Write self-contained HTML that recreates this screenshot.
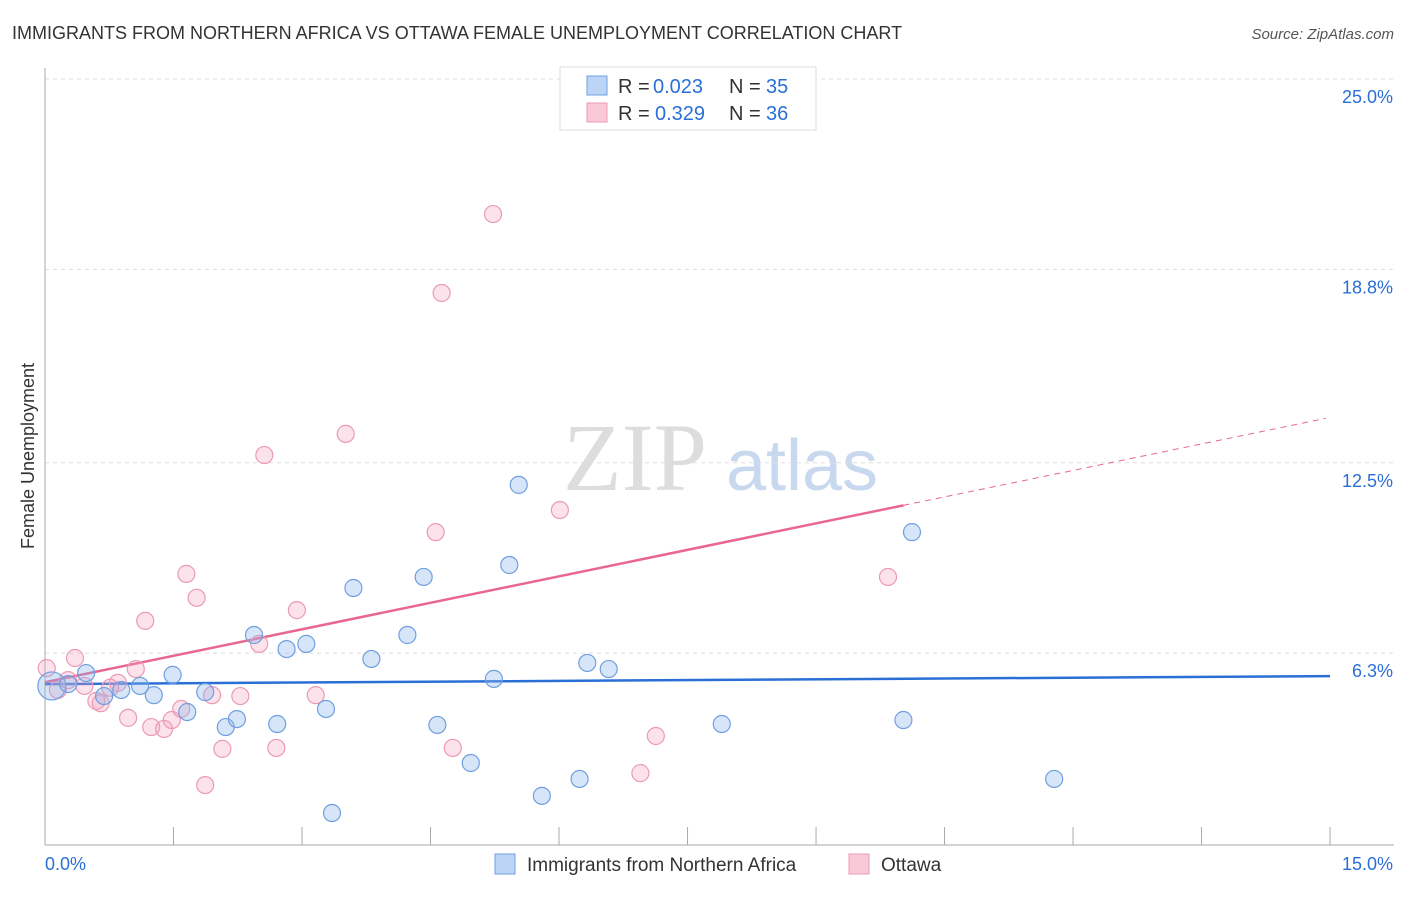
<!DOCTYPE html>
<html><head><meta charset="utf-8"><style>
body{margin:0;background:#fff;font-family:"Liberation Sans",sans-serif;}
</style></head><body>
<svg id="c" width="1406" height="892" xmlns="http://www.w3.org/2000/svg">
<text x="12" y="39" font-size="18" fill="#333">IMMIGRANTS FROM NORTHERN AFRICA VS OTTAWA FEMALE UNEMPLOYMENT CORRELATION CHART</text>
<text x="1394" y="39" font-size="15" fill="#555" font-style="italic" text-anchor="end">Source: ZipAtlas.com</text>
<text x="34" y="456" font-size="18" fill="#333" text-anchor="middle" transform="rotate(-90 34 456)">Female Unemployment</text>
<g><text x="635" y="490" font-family="Liberation Serif,serif" font-size="96" fill="#ddd" text-anchor="middle">ZIP</text><text x="802" y="490" font-size="72" fill="#c8d8ee" text-anchor="middle">atlas</text></g>
<g id="grid"></g><g id="axes"></g><g id="lines"></g><g id="pts"></g>
<g>
<rect x="560" y="67" width="256" height="63" fill="#fff" stroke="#ddd"/>
<rect x="587" y="76" width="20" height="19" fill="#bcd4f5" stroke="#6f9fe0"/>
<rect x="587" y="103" width="20" height="19" fill="#f9c9d8" stroke="#ec9ab4"/>
<text x="618" y="93" font-size="20" fill="#333">R =</text><text x="653" y="93" font-size="20" fill="#2a6fd6">0.023</text>
<text x="729" y="93" font-size="20" fill="#333">N =</text><text x="766" y="93" font-size="20" fill="#2a6fd6">35</text>
<text x="618" y="120" font-size="20" fill="#333">R =</text><text x="655" y="120" font-size="20" fill="#2a6fd6">0.329</text>
<text x="729" y="120" font-size="20" fill="#333">N =</text><text x="766" y="120" font-size="20" fill="#2a6fd6">36</text>
</g>
<g>
<rect x="495" y="854" width="20" height="20" fill="#bcd4f5" stroke="#6f9fe0"/>
<text x="527" y="871" font-size="19" fill="#333">Immigrants from Northern Africa</text>
<rect x="849" y="854" width="20" height="20" fill="#f9c9d8" stroke="#ec9ab4"/>
<text x="881" y="871" font-size="19" fill="#333">Ottawa</text>
</g>
</svg>
<script>
const yTicks=[25,18.8,12.5,6.3];
const yTickLabels=["25.0%","18.8%","12.5%","6.3%"];
const blueX=[0.08,0.27,0.48,0.69,0.89,1.11,1.27,1.49,1.66,1.87,2.11,2.24,2.44,2.71,2.82,3.05,3.28,3.60,3.81,4.23,4.42,4.58,4.97,5.24,5.42,5.53,5.80,6.24,6.33,6.58,7.90,10.02,10.12,11.78,3.35];
const blueY=[5.23,5.29,5.65,4.90,5.10,5.23,4.93,5.59,4.38,5.03,3.89,4.15,6.89,3.99,6.43,6.60,4.48,8.42,6.11,6.89,8.78,3.96,2.72,5.46,9.17,11.78,1.65,2.20,5.98,5.78,3.99,4.12,10.24,2.20,1.09];
const pinkX=[0.02,0.15,0.27,0.35,0.46,0.60,0.65,0.85,0.97,1.06,1.17,1.24,1.39,1.48,1.59,1.65,1.77,1.87,1.95,2.07,2.28,2.50,2.56,2.70,2.94,3.16,3.51,4.56,4.63,4.76,5.23,6.01,6.95,7.13,9.84,0.76];
const pinkY=[5.81,5.10,5.42,6.14,5.23,4.74,4.67,5.33,4.19,5.78,7.35,3.89,3.83,4.12,4.48,8.88,8.10,2.00,4.93,3.18,4.90,6.60,12.75,3.21,7.70,4.93,13.44,10.24,18.03,3.21,20.60,10.96,2.39,3.60,8.78,5.17];
const blueTrend=[5.29,5.55];
const pinkTrend=[5.35,0.575];
const NS="http://www.w3.org/2000/svg";
const X=v=>45+v*85.67, Y=v=>79+(25-v)*30.7;
function mk(p,t,a){const e=document.createElementNS(NS,t);for(const k in a)e.setAttribute(k,a[k]);document.getElementById(p).appendChild(e);return e;}
yTicks.forEach((t,i)=>{
 const l=mk('grid','line',{x1:45,x2:1394,y1:Y(t),y2:Y(t),stroke:'#ddd','stroke-dasharray':'4 4'});
 
 
 const tx=mk('grid','text',{x:1393,y:Y(t)+24,'font-size':18,fill:'#2a6fd6','text-anchor':'end'});tx.textContent=yTickLabels[i];
 
 
});
mk('axes','line',{x1:45,x2:45,y1:68,y2:845,stroke:'#aaa'});
mk('axes','line',{x1:45,x2:1394,y1:845,y2:845,stroke:'#aaa'});
for(let i=1;i<=10;i++){const t=mk('axes','line',{x1:X(i*1.5),x2:X(i*1.5),y1:827,y2:845,stroke:'#aaa'});}
let a=mk('axes','text',{x:45,y:870,'font-size':18,fill:'#2a6fd6'});a.textContent='0.0%';
a=mk('axes','text',{x:1393,y:870,'font-size':18,fill:'#2a6fd6','text-anchor':'end'});a.textContent='15.0%';
const bl=mk('lines','line',{x1:X(0),x2:X(15),y1:Y(blueTrend[0]),y2:Y(blueTrend[1]),stroke:'#2a6fd6','stroke-width':2.5});


const pl=mk('lines','line',{x1:X(0),x2:X(10.02),y1:Y(pinkTrend[0]),y2:Y(pinkTrend[0]+pinkTrend[1]*10.02),stroke:'#e8668f','stroke-width':2.5});


const pd=mk('lines','line',{x1:X(10.02),x2:X(14.95),y1:Y(pinkTrend[0]+pinkTrend[1]*10.02),y2:Y(pinkTrend[0]+pinkTrend[1]*14.95),stroke:'#e8668f','stroke-width':1,'stroke-dasharray':'6 5'});


pinkX.forEach((x,i)=>{const c=mk('pts','circle',{cx:X(x),cy:Y(pinkY[i]),r:8.5,fill:'rgba(244,160,188,0.3)',stroke:'#ec9ab4','stroke-width':1.2});
 
 });
blueX.forEach((x,i)=>{const c=mk('pts','circle',{cx:X(x),cy:Y(blueY[i]),r:i==0?14:8.5,fill:'rgba(140,180,235,0.35)',stroke:'#6f9fe0','stroke-width':1.2});
 
 });
</script>
</body></html>
